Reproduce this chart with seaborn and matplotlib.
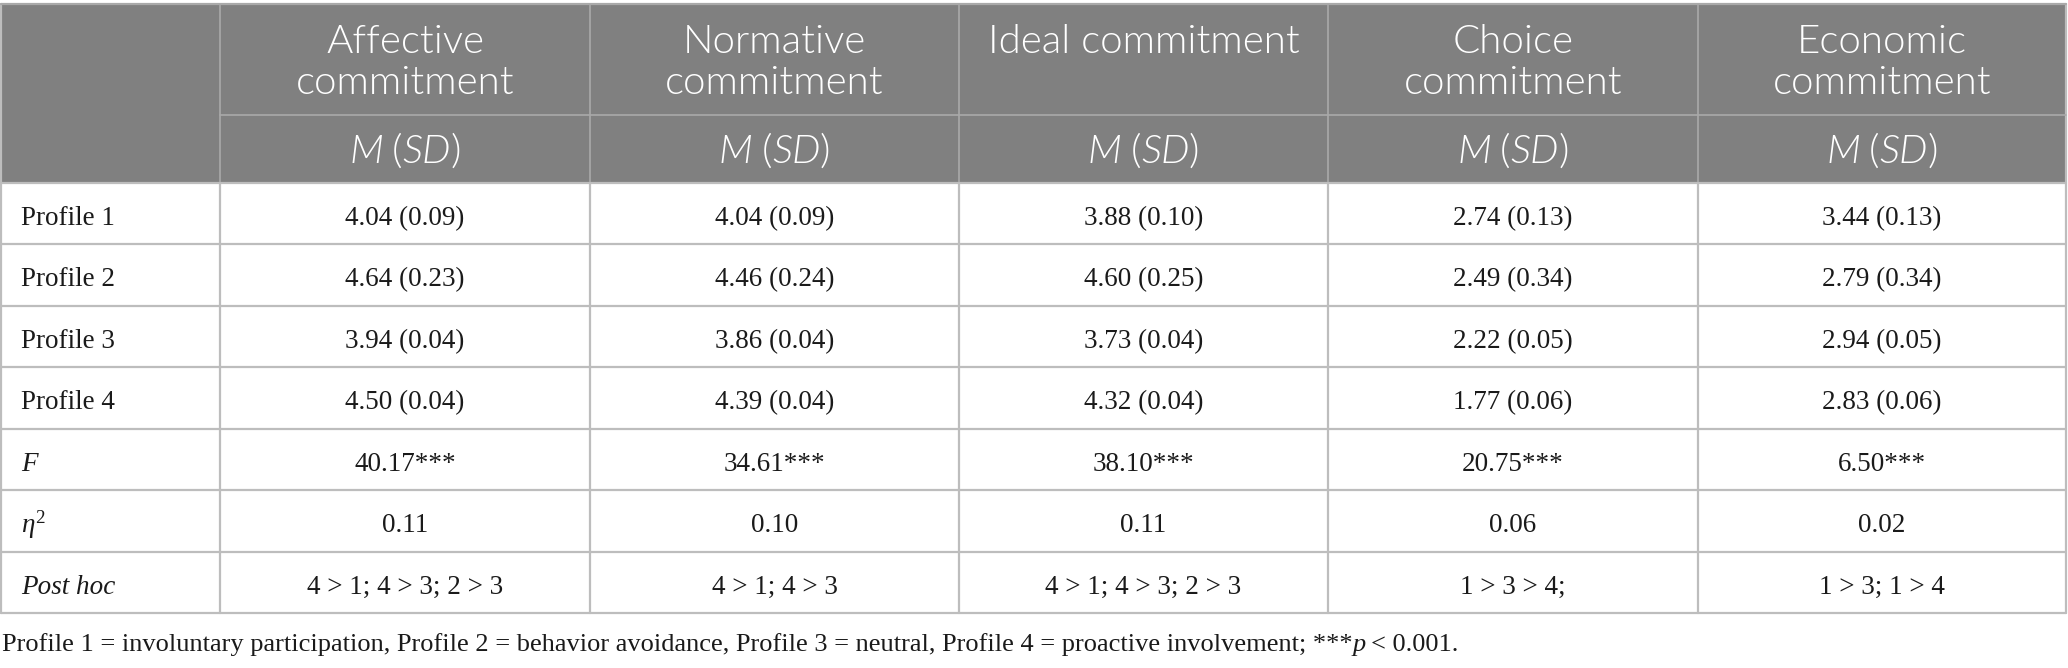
import matplotlib
matplotlib.use("Agg")
import matplotlib.pyplot as plt
import seaborn as sns
from matplotlib.patches import Rectangle

# ---------------- data ----------------
column_titles = [["Affective", "commitment"],
                 ["Normative", "commitment"],
                 ["Ideal commitment"],
                 ["Choice", "commitment"],
                 ["Economic", "commitment"]]
row_labels = ["Profile 1", "Profile 2", "Profile 3", "Profile 4", "F", "eta", "Post hoc"]

means_p1 = [4.04, 4.04, 3.88, 2.74, 3.44]
sd_p1 = [0.09, 0.09, 0.10, 0.13, 0.13]
means_p2 = [4.64, 4.46, 4.60, 2.49, 2.79]
sd_p2 = [0.23, 0.24, 0.25, 0.34, 0.34]
means_p3 = [3.94, 3.86, 3.73, 2.22, 2.94]
sd_p3 = [0.04, 0.04, 0.04, 0.05, 0.05]
means_p4 = [4.50, 4.39, 4.32, 1.77, 2.83]
sd_p4 = [0.04, 0.04, 0.04, 0.06, 0.06]
f_values = [40.17, 34.61, 38.10, 20.75, 6.50]
eta_squared = [0.11, 0.10, 0.11, 0.06, 0.02]
post_hoc = ["4 > 1; 4 > 3; 2 > 3", "4 > 1; 4 > 3", "4 > 1; 4 > 3; 2 > 3",
            "1 > 3 > 4;", "1 > 3; 1 > 4"]
footnote_main = ("Profile 1 = involuntary participation, Profile 2 = behavior avoidance, "
                 "Profile 3 = neutral, Profile 4 = proactive involvement; ***")
footnote_p = "p"
footnote_tail = "< 0.001."

# ---------------- style ----------------
sns.set_theme(style="white")
plt.rcParams["font.family"] = ["Liberation Serif", "DejaVu Serif"]
plt.rcParams["mathtext.fontset"] = "custom"
plt.rcParams["mathtext.rm"] = "Liberation Serif"
plt.rcParams["mathtext.it"] = "Liberation Serif:italic"

W, H = 2068, 668
fig = plt.figure(figsize=(W / 100, H / 100), dpi=100)
ax = fig.add_axes([0, 0, 1, 1])
ax.set_xlim(0, W)
ax.set_ylim(H, 0)
ax.axis("off")
renderer = fig.canvas.get_renderer()

HEADER_BG = "#808080"
HEADER_LINE = "#a9a9a9"
BODY_LINE = "#bdbdbd"
TEXT = "#1a1a1a"

col_edges = [1, 220, 590, 959, 1328, 1698, 2066]
head_top, head_mid, head_bot = 4, 115, 183
row_h = (613 - head_bot) / 7
row_edges = [head_bot + i * row_h for i in range(8)]

BODY_FS = 19.5
HEAD_FS = 29
HEAD_FONT = "Lato"
HEAD_WEIGHT = 300

# header background
ax.add_patch(Rectangle((col_edges[0], head_top), col_edges[-1] - col_edges[0],
                       head_bot - head_top, facecolor=HEADER_BG, edgecolor="none", zorder=1))
# header lines
ax.plot([col_edges[0], col_edges[-1]], [head_top, head_top], color=HEADER_LINE, lw=1.6, zorder=3)
ax.plot([col_edges[1], col_edges[-1]], [head_mid, head_mid], color=HEADER_LINE, lw=1.2, zorder=3)
for xe in col_edges[1:-1]:
    ax.plot([xe, xe], [head_top, head_bot], color=HEADER_LINE, lw=1.2, zorder=3)
# body lines
for ye in row_edges:
    ax.plot([col_edges[0], col_edges[-1]], [ye, ye], color=BODY_LINE, lw=1.6, zorder=3)
for xe in col_edges:
    top = head_top if xe in (col_edges[0], col_edges[-1]) else head_bot
    ax.plot([xe, xe], [top, row_edges[-1]], color=BODY_LINE, lw=1.6, zorder=2)


def draw_runs(x, y, runs, ha="center"):
    """runs: list of (text, kwargs, gap_after_px)."""
    arts, widths = [], []
    for txt, kw, gap in runs:
        t = ax.text(0, y, txt, va="baseline", ha="left", zorder=5, **kw)
        w = t.get_window_extent(renderer).width
        arts.append(t)
        widths.append(w + gap)
    total = sum(widths)
    start = x - total / 2 if ha == "center" else x
    for t, w in zip(arts, widths):
        t.set_x(start)
        start += w


# header titles
centers = [(col_edges[i] + col_edges[i + 1]) / 2 for i in range(len(col_edges) - 1)]
hk = dict(color="white", fontsize=HEAD_FS, family=HEAD_FONT, fontweight=HEAD_WEIGHT)
hki = dict(hk, style="italic")
for j, lines in enumerate(column_titles):
    cx = centers[j + 1]
    for k, line in enumerate(lines):
        ax.text(cx, 53 + 41 * k, line, ha="center", va="baseline", zorder=5, **hk)
    draw_runs(cx, 163, [("M", hki, 9), ("(", hk, 0), ("SD", hki, -1), (")", hk, 0)])

# body rows
body_rows = [
    [f"{m:.2f} ({s:.2f})" for m, s in zip(means_p1, sd_p1)],
    [f"{m:.2f} ({s:.2f})" for m, s in zip(means_p2, sd_p2)],
    [f"{m:.2f} ({s:.2f})" for m, s in zip(means_p3, sd_p3)],
    [f"{m:.2f} ({s:.2f})" for m, s in zip(means_p4, sd_p4)],
    [f"{v:.2f}***" for v in f_values],
    [f"{v:.2f}" for v in eta_squared],
    post_hoc,
]
for i, (label, vals) in enumerate(zip(row_labels, body_rows)):
    yb = row_edges[i] + 42
    if label == "eta":
        ax.text(21, yb, r"$\eta^2$", ha="left", va="baseline", color=TEXT, fontsize=BODY_FS, zorder=5)
    elif label in ("F", "Post hoc"):
        ax.text(21, yb, label, ha="left", va="baseline", color=TEXT, fontsize=BODY_FS,
                style="italic", zorder=5)
    else:
        ax.text(21, yb, label, ha="left", va="baseline", color=TEXT, fontsize=BODY_FS, zorder=5)
    for j, v in enumerate(vals):
        ax.text(centers[j + 1], yb, v, ha="center", va="baseline", color=TEXT,
                fontsize=BODY_FS, zorder=5)

# footnote
fk = dict(color=TEXT, fontsize=19)
draw_runs(2, 651, [(footnote_main, fk, 0), (footnote_p, dict(fk, style="italic"), 5),
                   (footnote_tail, fk, 0)], ha="left")

fig.savefig("out.png", dpi=100, facecolor="white")
